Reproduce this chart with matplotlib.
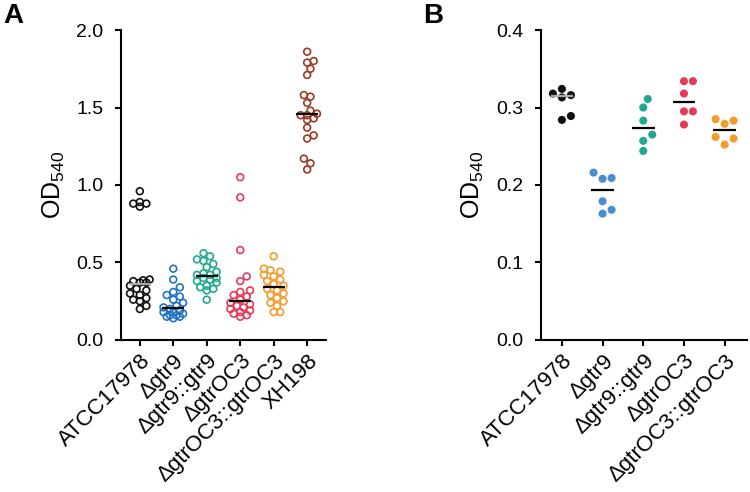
import numpy as np
import matplotlib
matplotlib.use('Agg')
import matplotlib.pyplot as plt

plt.rcParams['font.family'] = ['Liberation Sans', 'DejaVu Sans']
plt.rcParams['mathtext.fontset'] = 'custom'
plt.rcParams['mathtext.rm'] = 'Liberation Sans'
plt.rcParams['mathtext.default'] = 'regular'

# panel A data (crystal violet OD540, n=20 per strain)
strains_a = ['ATCC17978', 'Δgtr9', 'Δgtr9::gtr9', 'ΔgtrOC3', 'ΔgtrOC3::gtrOC3', 'XH198']
atcc_a = [0.96, 0.89, 0.88, 0.88, 0.86, 0.39, 0.385, 0.38, 0.37, 0.37,
          0.35, 0.33, 0.32, 0.30, 0.29, 0.27, 0.26, 0.25, 0.22, 0.20]
gtr9_a = [0.46, 0.39, 0.34, 0.31, 0.29, 0.28, 0.26, 0.24, 0.22, 0.21,
          0.20, 0.19, 0.18, 0.18, 0.17, 0.16, 0.16, 0.15, 0.15, 0.14]
gtr9c_a = [0.56, 0.54, 0.52, 0.51, 0.49, 0.47, 0.44, 0.43, 0.42, 0.42,
           0.40, 0.40, 0.39, 0.38, 0.37, 0.35, 0.34, 0.33, 0.32, 0.26]
oc3_a = [1.05, 0.92, 0.58, 0.41, 0.38, 0.32, 0.31, 0.29, 0.28, 0.26,
         0.24, 0.23, 0.22, 0.21, 0.20, 0.19, 0.18, 0.17, 0.16, 0.15]
oc3c_a = [0.54, 0.46, 0.45, 0.44, 0.42, 0.41, 0.39, 0.38, 0.36, 0.35,
          0.33, 0.32, 0.30, 0.29, 0.27, 0.25, 0.24, 0.22, 0.18, 0.18]
xh198_a = [1.86, 1.80, 1.79, 1.75, 1.71, 1.58, 1.57, 1.53, 1.48, 1.46,
           1.45, 1.45, 1.43, 1.42, 1.37, 1.32, 1.30, 1.17, 1.14, 1.10]
colors_a = ['#111111', '#1f74c2', '#1fa98f', '#e63a5a', '#f29c2b', '#9b3a22']

# panel B data (n=6 per strain)
strains_b = ['ATCC17978', 'Δgtr9', 'Δgtr9::gtr9', 'ΔgtrOC3', 'ΔgtrOC3::gtrOC3']
atcc_b = [0.324, 0.318, 0.316, 0.313, 0.289, 0.284]
gtr9_b = [0.216, 0.209, 0.208, 0.179, 0.168, 0.163]
gtr9c_b = [0.311, 0.300, 0.283, 0.265, 0.257, 0.244]
oc3_b = [0.334, 0.334, 0.318, 0.295, 0.295, 0.278]
oc3c_b = [0.285, 0.283, 0.279, 0.262, 0.260, 0.252]
colors_b = ['#111111', '#4a8ed0', '#1fa98f', '#e63a5a', '#f29c2b']


def swarm_offsets(vals, d_px, ppu_x, ppu_y, max_px):
    # beeswarm-like spread, points may overlap once the slots run out
    vals = np.asarray(vals)
    order = np.argsort(vals)
    step = d_px * 0.5
    cands = [0.0]
    j = 1
    while j * step <= max_px:
        cands += [j * step, -j * step]
        j += 1
    placed = []
    xs = np.zeros(len(vals))
    for i in order:
        y = vals[i] * ppu_y
        best, best_d = 0.0, -1
        for c in cands:
            dmin = min([np.hypot(c - px, y - py) for px, py in placed] + [1e9])
            if dmin >= d_px:
                best = c
                break
            if dmin > best_d:
                best, best_d = c, dmin
        placed.append((best, y))
        xs[i] = best / ppu_x
    return xs


def style_axes(ax):
    for s in ['top', 'right']:
        ax.spines[s].set_visible(False)
    for s in ['left', 'bottom']:
        ax.spines[s].set_linewidth(1.5)
    ax.tick_params(axis='both', width=1.5, length=4.5, labelsize=14)
    ax.tick_params(axis='y', pad=8)
    ax.tick_params(axis='x', pad=3, labelsize=16)


fig = plt.figure(figsize=(7.5, 4.92), dpi=100)

# ---- panel A
axA = fig.add_axes([0.161, 0.309, 0.274, 0.630])
groups_a = [atcc_a, gtr9_a, gtr9c_a, oc3_a, oc3c_a, xh198_a]
for i, (vals, c) in enumerate(zip(groups_a, colors_a)):
    off = swarm_offsets(vals, 6.5, 33.3, 155.0, 11)
    axA.scatter(i + off, vals, s=24, facecolors='none', edgecolors=c, linewidths=1.2, zorder=2)
    med = np.median(vals)
    lc = '#aaaaaa' if i == 0 else 'black'
    axA.hlines(med, i - 0.33, i + 0.33, color=lc, lw=1.6, zorder=3)
axA.set_xlim(-0.57, 5.57)
axA.set_ylim(0, 2.0)
axA.set_yticks([0, 0.5, 1.0, 1.5, 2.0])
axA.set_yticklabels(['0.0', '0.5', '1.0', '1.5', '2.0'])
axA.set_xticks(range(len(strains_a)))
axA.set_xticklabels(strains_a, rotation=45, ha='right', rotation_mode='anchor')
style_axes(axA)
axA.set_ylabel('OD$_{540}$', fontsize=18, labelpad=7)

# ---- panel B
axB = fig.add_axes([0.721, 0.309, 0.275, 0.630])
groups_b = [atcc_b, gtr9_b, gtr9c_b, oc3_b, oc3c_b]
for i, (vals, c) in enumerate(zip(groups_b, colors_b)):
    off = swarm_offsets(vals, 9.0, 40.7, 775.0, 13)
    axB.scatter(i + off, vals, s=34, color=c, edgecolors='none', zorder=2)
    med = np.median(vals)
    lc = '#aaaaaa' if i == 0 else 'black'
    axB.hlines(med, i - 0.28, i + 0.28, color=lc, lw=1.6, zorder=3)
axB.set_xlim(-0.52, 4.55)
axB.set_ylim(0, 0.4)
axB.set_yticks([0, 0.1, 0.2, 0.3, 0.4])
axB.set_yticklabels(['0.0', '0.1', '0.2', '0.3', '0.4'])
axB.set_xticks(range(len(strains_b)))
axB.set_xticklabels(strains_b, rotation=45, ha='right', rotation_mode='anchor')
style_axes(axB)
axB.set_ylabel('OD$_{540}$', fontsize=18, labelpad=7)

fig.text(0.004, 0.994, 'A', fontsize=20, fontweight='bold', va='top', ha='left')
fig.text(0.564, 0.994, 'B', fontsize=20, fontweight='bold', va='top', ha='left')

fig.savefig('out.png', dpi=100)
